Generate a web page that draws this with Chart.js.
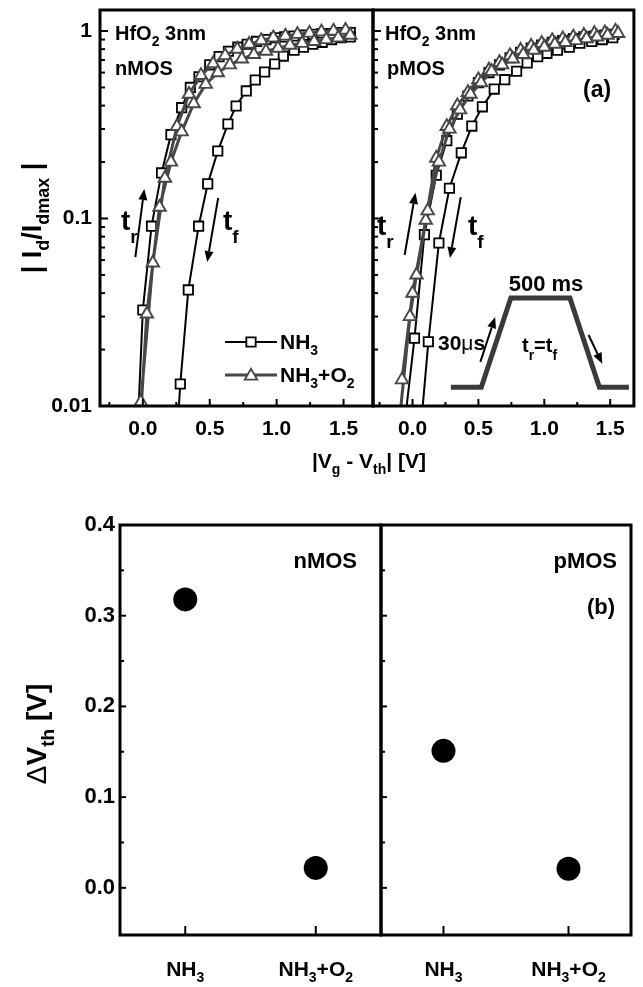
<!DOCTYPE html>
<html>
<head>
<meta charset="utf-8">
<script src="https://cdn.jsdelivr.net/npm/chart.js@4.4.1/dist/chart.umd.min.js"></script>
<style>
  html, body { margin: 0; padding: 0; background: #fff; }
  #wrap { position: relative; width: 643px; height: 987px; overflow: hidden; }
  #wrap canvas { position: absolute; left: 0; top: 0; }
</style>
</head>
<body>
<div id="wrap">
  <canvas id="cNL" width="643" height="987"></canvas>
  <canvas id="cPL" width="643" height="987"></canvas>
  <canvas id="cNB" width="643" height="987"></canvas>
  <canvas id="cPB" width="643" height="987"></canvas>
</div>
<script>
// --- (a) |Vg - Vth| [V] vs |Id/Idmax|, loop = rising edge then falling edge ---
const nNH3Vg = [-0.04, 0.0, 0.065, 0.14, 0.21, 0.29, 0.355, 0.42, 0.50, 0.57, 0.64, 0.71, 0.78, 0.85, 0.92, 0.99, 1.06, 1.13, 1.20, 1.27, 1.34, 1.41, 1.48, 1.55,
                1.55, 1.48, 1.41, 1.34, 1.27, 1.20, 1.13, 1.05, 0.985, 0.91, 0.84, 0.773, 0.697, 0.636, 0.56, 0.485, 0.417, 0.34, 0.28, 0.25];
const nNH3Id = [0.007, 0.0325, 0.091, 0.175, 0.28, 0.39, 0.50, 0.57, 0.66, 0.73, 0.78, 0.82, 0.85, 0.88, 0.90, 0.92, 0.93, 0.94, 0.95, 0.96, 0.97, 0.97, 0.98, 0.98,
                0.93, 0.92, 0.90, 0.87, 0.85, 0.82, 0.79, 0.735, 0.667, 0.604, 0.548, 0.479, 0.398, 0.319, 0.229, 0.153, 0.091, 0.0416, 0.0131, 0.006];
const nO2Vg = [-0.015, 0.075, 0.165, 0.255, 0.345, 0.435, 0.525, 0.615, 0.705, 0.795, 0.885, 0.975, 1.065, 1.155, 1.245, 1.335, 1.425, 1.515,
               1.55, 1.46, 1.37, 1.28, 1.19, 1.10, 1.01, 0.92, 0.83, 0.74, 0.65, 0.56, 0.47, 0.38, 0.29, 0.21, 0.125, 0.03, -0.03];
const nO2Id = [0.0105, 0.058, 0.164, 0.31, 0.46, 0.58, 0.67, 0.74, 0.80, 0.85, 0.89, 0.92, 0.94, 0.96, 0.975, 0.99, 1.0, 1.01,
               0.95, 0.92, 0.90, 0.88, 0.86, 0.84, 0.81, 0.78, 0.75, 0.71, 0.66, 0.60, 0.52, 0.41, 0.29, 0.20, 0.115, 0.031, 0.006];
const pNH3Vg = [-0.07, 0.015, 0.09, 0.18, 0.26, 0.34, 0.42, 0.50, 0.58, 0.66, 0.74, 0.82, 0.90, 0.98, 1.06, 1.14, 1.22, 1.30, 1.38, 1.46, 1.53,
                1.52, 1.44, 1.36, 1.27, 1.19, 1.10, 1.02, 0.95, 0.87, 0.79, 0.70, 0.62, 0.53, 0.45, 0.37, 0.28, 0.20, 0.12, 0.05];
const pNH3Id = [0.007, 0.023, 0.082, 0.17, 0.26, 0.36, 0.45, 0.53, 0.60, 0.66, 0.72, 0.77, 0.81, 0.84, 0.87, 0.89, 0.91, 0.93, 0.94, 0.95, 0.96,
                0.92, 0.90, 0.88, 0.86, 0.82, 0.79, 0.76, 0.73, 0.675, 0.61, 0.55, 0.49, 0.394, 0.311, 0.224, 0.145, 0.074, 0.022, 0.006];
const pO2Vg = [-0.08, 0.0, 0.10, 0.18, 0.26, 0.34, 0.42, 0.50, 0.58, 0.66, 0.74, 0.82, 0.90, 0.98, 1.06, 1.14, 1.22, 1.30, 1.38, 1.46, 1.54,
               1.56, 1.48, 1.40, 1.32, 1.24, 1.16, 1.08, 1.00, 0.92, 0.84, 0.76, 0.68, 0.60, 0.52, 0.44, 0.36, 0.28, 0.20, 0.115, 0.03, -0.02, -0.11];
const pO2Id = [0.0138, 0.04, 0.098, 0.21, 0.31, 0.40, 0.47, 0.55, 0.62, 0.68, 0.74, 0.79, 0.83, 0.86, 0.89, 0.91, 0.93, 0.95, 0.97, 0.98, 1.0,
               0.97, 0.95, 0.93, 0.91, 0.89, 0.87, 0.85, 0.82, 0.79, 0.75, 0.71, 0.66, 0.61, 0.53, 0.46, 0.38, 0.30, 0.20, 0.11, 0.05, 0.03, 0.007];

// pulse sketch in the pMOS panel (drawn in data units)
const pulseV = [0.291, 0.522, 0.746, 1.194, 1.418, 1.642];
const pulseI = [0.0126, 0.0126, 0.0377, 0.0377, 0.0126, 0.0126];

// --- (b) threshold shift ---
const splits = ['NH3', 'NH3+O2'];
const dVthN = [0.318, 0.022];
const dVthP = [0.151, 0.021];

// --- ticks ---
const yTopMajor = [0.01, 0.1, 1];
const yTopMinor = [0.02, 0.03, 0.04, 0.05, 0.06, 0.07, 0.08, 0.09, 0.2, 0.3, 0.4, 0.5, 0.6, 0.7, 0.8, 0.9];
const xTopMajor = [0, 0.5, 1, 1.5];
const xTopMinor = [-0.25, 0.25, 0.75, 1.25];
const yBotMajor = [0, 0.1, 0.2, 0.3, 0.4];
const yBotMinor = [0.05, 0.15, 0.25, 0.35];

const FONT = '"Liberation Sans", Arial, Helvetica, sans-serif';
const GREY = '#474747';
const SQ_R = 6.6, TRI_R = 7.2;

const pts = (xs, ys) => xs.map((x, i) => ({ x, y: ys[i] }));

// --- text helpers (subscripts) ---
function fontFor(size, sub, style, subScale) {
  const s = sub ? Math.round(size * subScale) : size;
  return `${style === 'normal' ? '' : 'bold '}${s}px ${FONT}`;
}

function drawRich(ctx, parts, x, y, size, align = 'left', subShift = 0.3, subScale = 0.68) {
  let w = 0;
  parts.forEach(([t, sub, st]) => { ctx.font = fontFor(size, sub, st, subScale); w += ctx.measureText(t).width; });
  let cx = align === 'center' ? x - w / 2 : align === 'right' ? x - w : x;
  ctx.textAlign = 'left';
  ctx.textBaseline = 'alphabetic';
  ctx.fillStyle = '#000';
  parts.forEach(([t, sub, st]) => {
    ctx.font = fontFor(size, sub, st, subScale);
    ctx.fillText(t, cx, sub ? y + size * subShift : y);
    cx += ctx.measureText(t).width;
  });
}

function arrow(ctx, x1, y1, x2, y2) {
  const ang = Math.atan2(y2 - y1, x2 - x1);
  const hl = 11, hw = 4.5;
  const bx = x2 - hl * Math.cos(ang), by = y2 - hl * Math.sin(ang);
  ctx.strokeStyle = '#000';
  ctx.fillStyle = '#000';
  ctx.lineWidth = 2;
  ctx.beginPath(); ctx.moveTo(x1, y1); ctx.lineTo(bx, by); ctx.stroke();
  ctx.beginPath();
  ctx.moveTo(x2, y2);
  ctx.lineTo(bx + hw * Math.sin(ang), by - hw * Math.cos(ang));
  ctx.lineTo(bx - hw * Math.sin(ang), by + hw * Math.cos(ang));
  ctx.closePath(); ctx.fill();
}

// arrows given in data units [V0, I0, V1, I1]
function dataArrows(ctx, chart, list) {
  const sx = chart.scales.x, sy = chart.scales.y;
  list.forEach(a => arrow(ctx, sx.getPixelForValue(a[0]), sy.getPixelForValue(a[1]),
                              sx.getPixelForValue(a[2]), sy.getPixelForValue(a[3])));
}

function marker(ctx, style, x, y, r, color, lw) {
  ctx.save();
  ctx.fillStyle = '#fff';
  ctx.strokeStyle = color;
  ctx.lineWidth = lw;
  ctx.beginPath();
  if (style === 'rect') {
    const s = r * Math.SQRT1_2;
    ctx.rect(x - s, y - s, 2 * s, 2 * s);
  } else {
    for (let k = 0; k < 3; k++) {
      const a = k * 2 * Math.PI / 3;
      const px = x + Math.sin(a) * r, py = y - Math.cos(a) * r;
      if (k === 0) ctx.moveTo(px, py); else ctx.lineTo(px, py);
    }
    ctx.closePath();
  }
  ctx.fill(); ctx.stroke();
  ctx.restore();
}

// frame + inward ticks, then extra annotations
function framePlugin(cfg) {
  return {
    id: 'frame',
    afterDatasetsDraw(chart) {
      const { ctx, chartArea: a } = chart;
      const sx = chart.scales.x, sy = chart.scales.y;
      ctx.save();
      ctx.strokeStyle = '#000';
      ctx.lineWidth = 2;
      const seg = (x1, y1, x2, y2) => { ctx.beginPath(); ctx.moveTo(x1, y1); ctx.lineTo(x2, y2); ctx.stroke(); };
      cfg.yMajor.forEach(v => { const y = sy.getPixelForValue(v); seg(a.left, y, a.left + cfg.len[0], y); });
      cfg.yMinor.forEach(v => { const y = sy.getPixelForValue(v); seg(a.left, y, a.left + cfg.len[1], y); });
      cfg.xMajor.forEach(v => { const x = sx.getPixelForValue(v); seg(x, a.bottom, x, a.bottom - cfg.len[2]); });
      cfg.xMinor.forEach(v => { const x = sx.getPixelForValue(v); seg(x, a.bottom, x, a.bottom - cfg.len[3]); });
      ctx.lineWidth = 3;
      ctx.strokeRect(a.left, a.top, a.right - a.left, a.bottom - a.top);
      if (cfg.extra) cfg.extra(ctx, chart);
      ctx.restore();
    }
  };
}

// --- scale builders ---
function tickFont(size) {
  return { family: FONT, size, weight: 'bold' };
}

function yLogScale(showLabels) {
  return {
    type: 'logarithmic', min: 0.01, max: 1.294,
    afterBuildTicks: s => {
      s.ticks = yTopMajor.concat(yTopMinor).sort((a, b) => a - b)
        .map(v => ({ value: v, big: yTopMajor.includes(v) }));
    },
    afterFit: s => { s.width = showLabels ? 50 : 0; s.paddingTop = 0; s.paddingBottom = 0; },
    grid: { display: false, drawTicks: false },
    border: { display: false },
    ticks: {
      display: showLabels, autoSkip: false, padding: 8, color: '#000', font: tickFont(21),
      callback: (v, i, ticks) => ticks[i].big ? String(v) : ''
    }
  };
}

function xTopScale(min, max) {
  return {
    type: 'linear', min, max,
    afterBuildTicks: s => {
      s.ticks = xTopMajor.concat(xTopMinor).filter(v => v >= min && v <= max).sort((a, b) => a - b)
        .map(v => ({ value: v, big: xTopMajor.includes(v) }));
    },
    afterFit: s => { s.height = 40; s.paddingLeft = 0; s.paddingRight = 0; },
    grid: { display: false, drawTicks: false },
    border: { display: false },
    ticks: {
      autoSkip: false, maxRotation: 0, padding: 11, color: '#000', font: tickFont(21),
      callback: (v, i, ticks) => ticks[i].big ? v.toFixed(1) : ''
    }
  };
}

function yBotScale(showLabels) {
  return {
    type: 'linear', min: -0.052, max: 0.4,
    afterBuildTicks: s => { s.ticks = yBotMajor.map(v => ({ value: v })); },
    afterFit: s => { s.width = showLabels ? 60 : 0; s.paddingTop = 0; s.paddingBottom = 0; },
    grid: { display: false, drawTicks: false },
    border: { display: false },
    ticks: {
      display: showLabels, autoSkip: false, padding: 5, color: '#000', font: tickFont(22),
      callback: v => v.toFixed(1)
    }
  };
}

function xBotScale() {
  return {
    type: 'linear', min: 0.5, max: 2.5,
    afterBuildTicks: s => { s.ticks = splits.map((c, i) => ({ value: i + 1 })); },
    afterFit: s => { s.height = 52; s.paddingLeft = 0; s.paddingRight = 0; },
    grid: { display: false, drawTicks: false },
    border: { display: false },
    ticks: { display: false }
  };
}

const baseOptions = (padding, scales) => ({
  responsive: false,
  animation: false,
  events: [],
  layout: { padding },
  plugins: { legend: { display: false }, tooltip: { enabled: false } },
  scales
});

function curveSets(nh3V, nh3I, o2V, o2I) {
  return [
    {
      label: 'NH3', data: pts(nh3V, nh3I), showLine: true,
      borderColor: '#000', borderWidth: 2,
      pointStyle: 'rect', pointRadius: SQ_R, pointBorderWidth: 1.8,
      pointBackgroundColor: '#fff', pointBorderColor: '#000', order: 2
    },
    {
      label: 'NH3+O2', data: pts(o2V, o2I), showLine: true,
      borderColor: GREY, borderWidth: 3,
      pointStyle: 'triangle', pointRadius: TRI_R, pointBorderWidth: 1.9,
      pointBackgroundColor: '#fff', pointBorderColor: GREY, order: 1
    }
  ];
}

const subLabel = name => name === 'NH3'
  ? [['NH'], ['3', 1]]
  : [['NH'], ['3', 1], ['+O'], ['2', 1]];

// --- (a) nMOS ---
new Chart(document.getElementById('cNL'), {
  type: 'scatter',
  data: { datasets: curveSets(nNH3Vg, nNH3Id, nO2Vg, nO2Id) },
  options: baseOptions({ left: 50, top: 10, right: 270, bottom: 541 },
    { x: xTopScale(-0.32, 1.72), y: yLogScale(true) }),
  plugins: [framePlugin({
    yMajor: yTopMajor, yMinor: yTopMinor, xMajor: xTopMajor, xMinor: xTopMinor, len: [8, 5, 7, 4],
    extra: (ctx, chart) => {
      drawRich(ctx, [['HfO'], ['2', 1], [' 3nm']], 115, 40, 20);
      drawRich(ctx, [['nMOS']], 115, 75, 20);
      dataArrows(ctx, chart, [[-0.056, 0.0623, 0.011, 0.1436], [0.563, 0.1286, 0.481, 0.0586]]);
      drawRich(ctx, [['t'], ['r', 1]], 121, 230, 28, 'left', 0.45);
      drawRich(ctx, [['t'], ['f', 1]], 223, 230, 28, 'left', 0.45);
      // legend
      ctx.lineWidth = 2; ctx.strokeStyle = '#000';
      ctx.beginPath(); ctx.moveTo(225, 342); ctx.lineTo(277, 342); ctx.stroke();
      marker(ctx, 'rect', 251, 342, SQ_R, '#000', 1.8);
      ctx.lineWidth = 3; ctx.strokeStyle = GREY;
      ctx.beginPath(); ctx.moveTo(225, 375); ctx.lineTo(277, 375); ctx.stroke();
      marker(ctx, 'triangle', 251, 376, TRI_R, GREY, 1.9);
      drawRich(ctx, subLabel('NH3'), 280, 349, 21);
      drawRich(ctx, subLabel('NH3+O2'), 280, 382, 21);
      // axis titles
      drawRich(ctx, [['|V'], ['g', 1], [' - V'], ['th', 1], ['| [V]']], 369, 468, 21, 'center');
      ctx.save();
      ctx.translate(41, 218);
      ctx.rotate(-Math.PI / 2);
      drawRich(ctx, [['| I'], ['d', 1], ['/I'], ['dmax', 1], [' |']], 0, 0, 27, 'center');
      ctx.restore();
    }
  })]
});

// --- (a) pMOS ---
new Chart(document.getElementById('cPL'), {
  type: 'scatter',
  data: {
    datasets: curveSets(pNH3Vg, pNH3Id, pO2Vg, pO2Id).concat([{
      label: 'pulse', data: pts(pulseV, pulseI), showLine: true,
      borderColor: '#3a3a3a', borderWidth: 5, borderJoinStyle: 'miter',
      pointRadius: 0, order: 3
    }])
  },
  options: baseOptions({ left: 373, top: 10, right: 5, bottom: 541 },
    { x: xTopScale(-0.30, 1.68), y: yLogScale(false) }),
  plugins: [framePlugin({
    yMajor: yTopMajor, yMinor: yTopMinor, xMajor: xTopMajor, xMinor: xTopMinor, len: [8, 5, 7, 4],
    extra: (ctx, chart) => {
      drawRich(ctx, [['HfO'], ['2', 1], [' 3nm']], 385, 40, 20);
      drawRich(ctx, [['pMOS']], 387, 75, 20);
      drawRich(ctx, [['(a)']], 583, 97, 23);
      dataArrows(ctx, chart, [
        [-0.06, 0.0639, 0.022, 0.137], [0.366, 0.130, 0.284, 0.0615],
        [0.515, 0.0172, 0.627, 0.0298], [1.336, 0.0239, 1.44, 0.0168]
      ]);
      drawRich(ctx, [['t'], ['r', 1]], 377, 235, 28, 'left', 0.45);
      drawRich(ctx, [['t'], ['f', 1]], 468, 235, 28, 'left', 0.45);
      drawRich(ctx, [['500 ms']], 546, 291, 22, 'center');
      drawRich(ctx, [['30'], ['\u03bc', 0, 'normal'], ['s']], 438, 350, 21);
      drawRich(ctx, [['t'], ['r', 1], ['=t'], ['f', 1]], 522, 352, 20, 'left', 0.4);
    }
  })]
});

// --- (b) nMOS ---
new Chart(document.getElementById('cNB'), {
  type: 'scatter',
  data: {
    datasets: [{
      label: 'nMOS', data: splits.map((c, i) => ({ x: i + 1, y: dVthN[i] })),
      pointRadius: 12, pointBackgroundColor: '#000', pointBorderColor: '#000', pointBorderWidth: 0
    }]
  },
  options: baseOptions({ left: 60, top: 525, right: 262, bottom: 0 },
    { x: xBotScale(), y: yBotScale(true) }),
  plugins: [framePlugin({
    yMajor: yBotMajor, yMinor: yBotMinor, xMajor: [1, 2], xMinor: [], len: [6, 4, 9, 0],
    extra: (ctx, chart) => {
      const sx = chart.scales.x;
      splits.forEach((c, i) => drawRich(ctx, subLabel(c), sx.getPixelForValue(i + 1), 976, 21, 'center'));
      drawRich(ctx, [['nMOS']], 357, 568, 22, 'right');
      ctx.save();
      ctx.translate(46, 734);
      ctx.rotate(-Math.PI / 2);
      drawRich(ctx, [['\u0394', 0, 'normal'], ['V'], ['th', 1], [' [V]']], 0, 0, 28, 'center');
      ctx.restore();
    }
  })]
});

// --- (b) pMOS ---
new Chart(document.getElementById('cPB'), {
  type: 'scatter',
  data: {
    datasets: [{
      label: 'pMOS', data: splits.map((c, i) => ({ x: i + 1, y: dVthP[i] })),
      pointRadius: 12, pointBackgroundColor: '#000', pointBorderColor: '#000', pointBorderWidth: 0
    }]
  },
  options: baseOptions({ left: 381, top: 525, right: 2, bottom: 0 },
    { x: xBotScale(), y: yBotScale(false) }),
  plugins: [framePlugin({
    yMajor: yBotMajor, yMinor: yBotMinor, xMajor: [1, 2], xMinor: [], len: [6, 4, 9, 0],
    extra: (ctx, chart) => {
      const sx = chart.scales.x;
      splits.forEach((c, i) => drawRich(ctx, subLabel(c), sx.getPixelForValue(i + 1), 976, 21, 'center'));
      drawRich(ctx, [['pMOS']], 617, 568, 22, 'right');
      drawRich(ctx, [['(b)']], 615, 614, 22, 'right');
    }
  })]
});
</script>
</body>
</html>
